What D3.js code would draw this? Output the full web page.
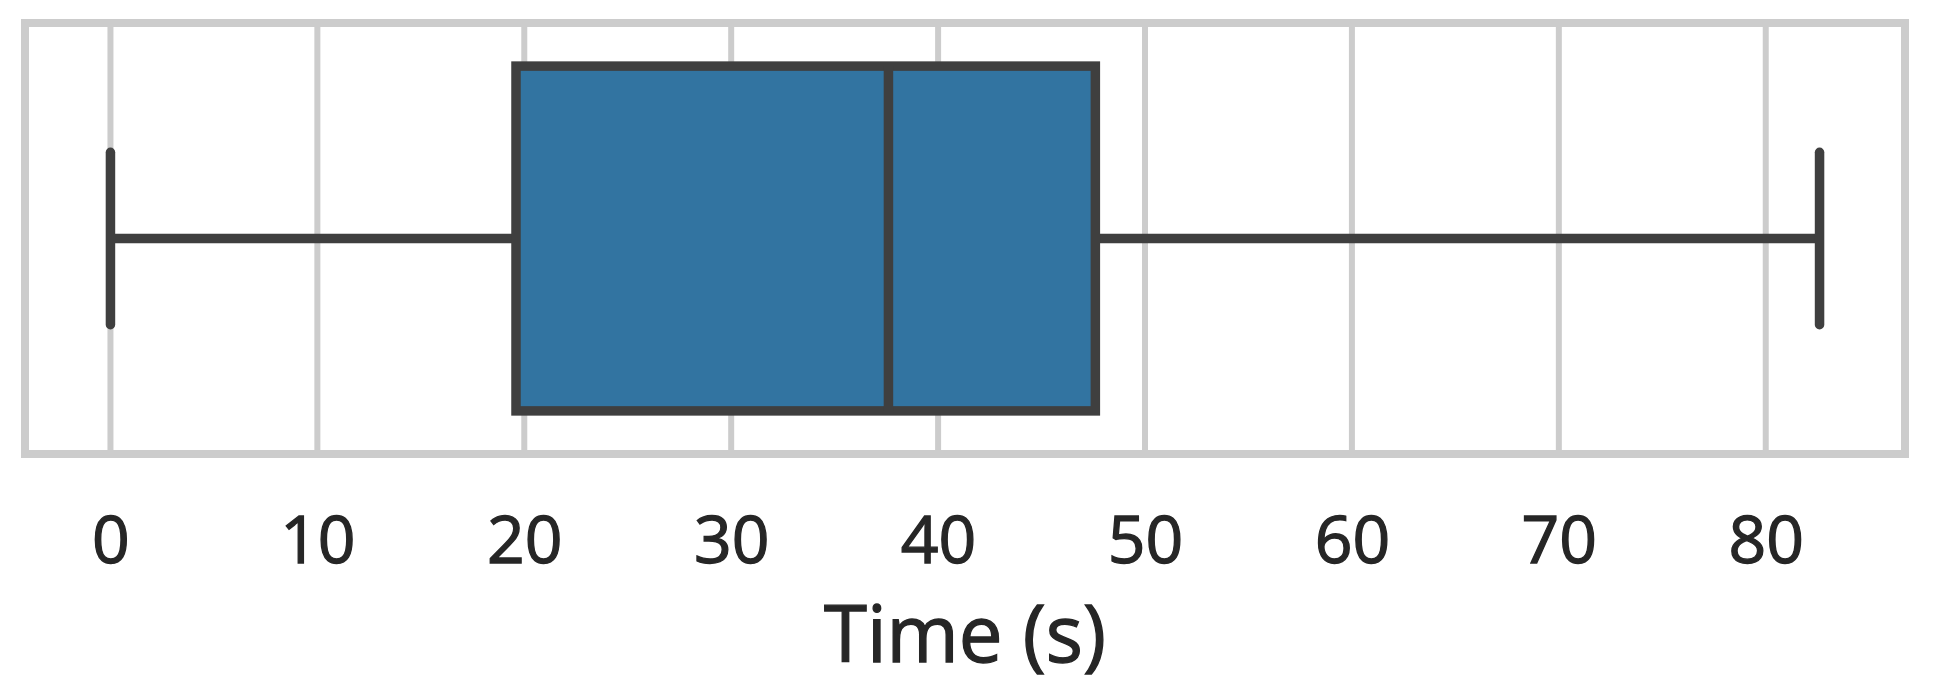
<!DOCTYPE html>
<html>
<head>
<meta charset="utf-8">
<script src="https://cdn.jsdelivr.net/npm/d3@7"></script>
<style>
  body { margin: 0; background: #fff; }
  text { font-family: 'Open Sans', 'Noto Sans', sans-serif; stroke: #262626; stroke-width: 1.3px; }
</style>
</head>
<body>
<div id="container"></div>
<script>
// box statistics (seconds)
const groups = ['Time'];
const whiskerLow = [0];
const quartile1 = [19.6];
const medians = [37.6];
const quartile3 = [47.6];
const whiskerHigh = [82.6];
const xTicks = [0, 10, 20, 30, 40, 50, 60, 70, 80];
const xLabel = 'Time (s)';

let svg,
  xScale,
  yScale,
  svgWidth = 1933,
  svgHeight = 699;

const plot = { left: 25, right: 1905, top: 23, bottom: 454 };
const lineColor = '#3f3f3f';
const gridColor = '#cccccc';
const boxColor = '#3274a1';
const boxLine = 9.5;

const init = () => {
  drawGraph();
  generateScales();
  generateAxes();
  drawBoxes();
};

const drawGraph = () => {
  svg = d3
    .select('#container')
    .append('svg')
    .attr('width', svgWidth)
    .attr('height', svgHeight)
    .style('background-color', '#fff');
};

const generateScales = () => {
  // matplotlib-style 5% margins around the data range
  const lo = d3.min(whiskerLow);
  const hi = d3.max(whiskerHigh);
  const pad = (hi - lo) * 0.05;
  xScale = d3
    .scaleLinear()
    .domain([lo - pad, hi + pad])
    .range([plot.left, plot.right]);

  yScale = d3
    .scaleBand()
    .domain(groups)
    .range([plot.top, plot.bottom])
    .paddingInner(0)
    .paddingOuter(0);
};

const generateAxes = () => {
  const xAxis = d3
    .axisBottom(xScale)
    .tickValues(xTicks)
    .tickFormat(d3.format('d'))
    .tickSize(0)
    .tickSizeOuter(0);

  // vertical grid lines
  svg
    .append('g')
    .attr('id', 'grid')
    .selectAll('line')
    .data(xTicks)
    .enter()
    .append('line')
    .attr('x1', (d) => xScale(d))
    .attr('x2', (d) => xScale(d))
    .attr('y1', plot.top)
    .attr('y2', plot.bottom)
    .attr('stroke', gridColor)
    .attr('stroke-width', 6);

  svg
    .append('rect')
    .attr('id', 'frame')
    .attr('x', plot.left)
    .attr('y', plot.top)
    .attr('width', plot.right - plot.left)
    .attr('height', plot.bottom - plot.top)
    .attr('fill', 'none')
    .attr('stroke', gridColor)
    .attr('stroke-width', 8);

  const g = svg
    .append('g')
    .attr('id', 'x-axis')
    .attr('transform', `translate(0,${plot.bottom})`)
    .call(xAxis);
  g.select('.domain').remove();
  g.selectAll('text')
    .attr('dy', null)
    .attr('y', 109)
    .attr('fill', '#262626')
    .style('font-size', '66px');

  svg
    .append('text')
    .attr('id', 'x-label')
    .attr('x', (plot.left + plot.right) / 2)
    .attr('y', 662)
    .attr('text-anchor', 'middle')
    .attr('fill', '#262626')
    .style('font-size', '78px')
    .text(xLabel);
};

const drawBoxes = () => {
  const bw = yScale.bandwidth() * 0.8;
  groups.forEach((name, i) => {
    const cy = yScale(name) + yScale.bandwidth() / 2;
    const g = svg.append('g').attr('class', 'box');

    // whiskers
    g.append('line')
      .attr('x1', xScale(whiskerLow[i]))
      .attr('x2', xScale(quartile1[i]))
      .attr('y1', cy)
      .attr('y2', cy);
    g.append('line')
      .attr('x1', xScale(quartile3[i]))
      .attr('x2', xScale(whiskerHigh[i]))
      .attr('y1', cy)
      .attr('y2', cy);

    // caps
    [whiskerLow[i], whiskerHigh[i]].forEach((v) => {
      g.append('line')
        .attr('x1', xScale(v))
        .attr('x2', xScale(v))
        .attr('y1', cy - bw / 4)
        .attr('y2', cy + bw / 4)
        .attr('stroke-linecap', 'round');
    });

    g.append('rect')
      .attr('x', xScale(quartile1[i]))
      .attr('y', cy - bw / 2)
      .attr('width', xScale(quartile3[i]) - xScale(quartile1[i]))
      .attr('height', bw)
      .attr('fill', boxColor);

    g.append('line')
      .attr('x1', xScale(medians[i]))
      .attr('x2', xScale(medians[i]))
      .attr('y1', cy - bw / 2)
      .attr('y2', cy + bw / 2);

    g.selectAll('line, rect')
      .attr('stroke', lineColor)
      .attr('stroke-width', boxLine);
  });
};

init();
</script>
</body>
</html>
